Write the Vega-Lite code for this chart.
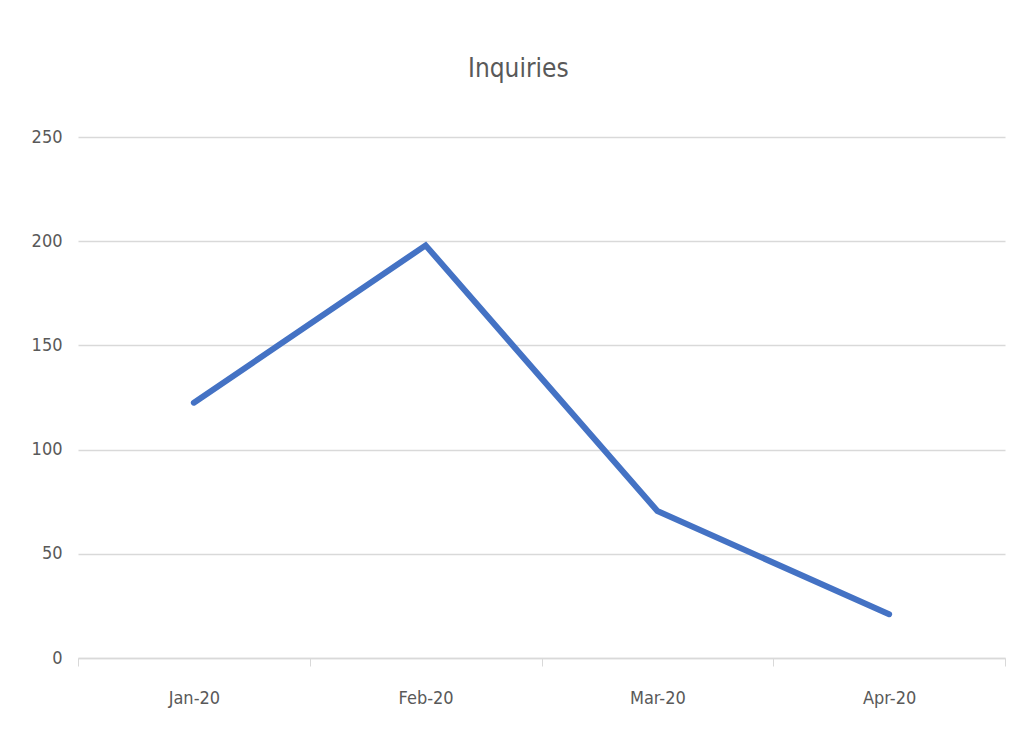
{
  "$schema": "https://vega.github.io/schema/vega-lite/v6.json",
  "autosize": {"type": "none"},
  "width": 927,
  "height": 521,
  "padding": {"left": 78, "top": 137, "right": 30, "bottom": 81},
  "background": "white",
  "title": {
    "text": "Inquiries",
    "font": "Liberation Sans Narrow, DejaVu Sans Condensed, sans-serif",
    "fontSize": 26,
    "fontWeight": "normal",
    "color": "#595959",
    "anchor": "middle",
    "frame": "bounds",
    "offset": 46
  },
  "data": {
    "values": [
      {"month": "Jan-20", "inquiries": 122.5},
      {"month": "Feb-20", "inquiries": 198},
      {"month": "Mar-20", "inquiries": 70.5},
      {"month": "Apr-20", "inquiries": 21}
    ]
  },
  "mark": {"type": "line", "color": "#4472C4", "strokeWidth": 6, "strokeCap": "round", "strokeJoin": "miter"},
  "encoding": {
    "x": {
      "field": "month",
      "type": "ordinal",
      "sort": null,
      "scale": {"paddingInner": 0, "paddingOuter": 0},
      "axis": {
        "title": null,
        "labelAngle": 0,
        "tickBand": "extent",
        "grid": false,
        "domainColor": "#d9d9d9",
        "domainWidth": 1.5,
        "tickColor": "#d9d9d9",
        "tickSize": 8,
        "tickWidth": 1,
        "labelFont": "Liberation Sans Narrow, DejaVu Sans Condensed, sans-serif",
        "labelFontSize": 18,
        "labelColor": "#595959",
        "labelPadding": 23
      }
    },
    "y": {
      "field": "inquiries",
      "type": "quantitative",
      "scale": {"domain": [0, 250], "nice": false},
      "axis": {
        "title": null,
        "values": [0, 50, 100, 150, 200, 250],
        "domain": false,
        "ticks": false,
        "grid": true,
        "gridColor": "#d9d9d9",
        "gridWidth": 1.5,
        "labelFont": "Liberation Sans Narrow, DejaVu Sans Condensed, sans-serif",
        "labelFontSize": 18,
        "labelColor": "#595959",
        "labelPadding": 16
      }
    }
  },
  "config": {"view": {"stroke": null}}
}
